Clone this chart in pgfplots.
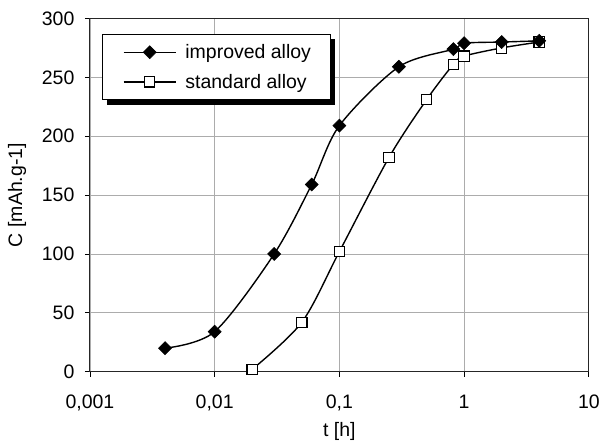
\documentclass[border=0pt]{standalone}
\usepackage{fontspec}
\setmainfont{Liberation Sans}
\usepackage{pgfplots}
\pgfplotsset{compat=1.18}

\newcommand{\chartfont}{\fontsize{19.5}{23.4}\selectfont}

\begin{document}
\begin{tikzpicture}
\begin{semilogxaxis}[
  name=ax,
  scale only axis, width=499.3pt, height=353.5pt,
  xmin=0.001, xmax=10, ymin=0, ymax=300,
  xtick={0.001,0.01,0.1,1,10},
  xticklabels={{0,001},{0,01},{0,1},1,10},
  xminorticks=false,
  ytick={0,50,100,150,200,250,300},
  /pgf/number format/assume math mode=true,
  tick label style={font=\chartfont},
  xticklabel style={yshift=-15pt},
  yticklabel style={xshift=-7pt},
  tick align=outside, xtick pos=bottom, ytick pos=left,
  major tick length=5pt,
  tick style={black, line width=0.8pt},
  grid=major, grid style={gray!65, line width=0.8pt},
  axis line style={black!85, line width=0.9pt},
  xlabel={t [h]}, ylabel={C [mAh.g-1]},
  label style={font=\chartfont},
  xlabel style={yshift=-4pt},
  ylabel style={at={(axis description cs:-0.146,0.5)}, anchor=center},
  reverse legend,
  legend cell align=left,
  legend image code/.code={
    \path (-4pt,0pt) (59pt,0pt);
    \draw[mark repeat=2,mark phase=2,#1]
      plot coordinates {(0pt,0pt) (26pt,0pt) (52pt,0pt)};
  },
  legend style={
    name=leg,
    at={(0,1)}, anchor=north west, xshift=11.7pt, yshift=-15.5pt,
    font=\chartfont, draw=black, line width=0.9pt, fill=white,
    inner xsep=17pt, inner ysep=8pt, row sep=10pt,
  },
]
% standard alloy: open squares
\addplot[black, line width=1.4pt, smooth,
         mark=square*, mark size=5.2pt,
         mark options={fill=white, line width=1.1pt}]
  coordinates {
    (0.02,2) (0.05,42) (0.1,102) (0.25,182) (0.5,231)
    (0.82,261) (1,268) (2,275) (4,280)
  };
\addlegendentry{standard alloy}
% improved alloy: filled diamonds
\addplot[black, line width=1.4pt, smooth,
         mark=square*, mark size=4.6pt,
         mark options={fill=black, rotate=45, line width=0.6pt}]
  coordinates {
    (0.004,20) (0.01,34) (0.03,100) (0.06,159) (0.1,209)
    (0.3,259) (0.82,274) (1,279) (2,280) (4,281)
  };
\addlegendentry{improved alloy}
\end{semilogxaxis}
% drop shadow of the legend box (right and bottom strips)
\fill[black] ([yshift=-5pt]leg.north east) rectangle ([xshift=5pt,yshift=-5pt]leg.south east);
\fill[black] ([xshift=5pt]leg.south west) rectangle ([xshift=5pt,yshift=-5pt]leg.south east);
% page frame with the reference's margins around the axis box
\path ([xshift=-90pt,yshift=-70pt]ax.south west)
  rectangle ([xshift=13.7pt,yshift=18.5pt]ax.north east);
\end{tikzpicture}
\end{document}
